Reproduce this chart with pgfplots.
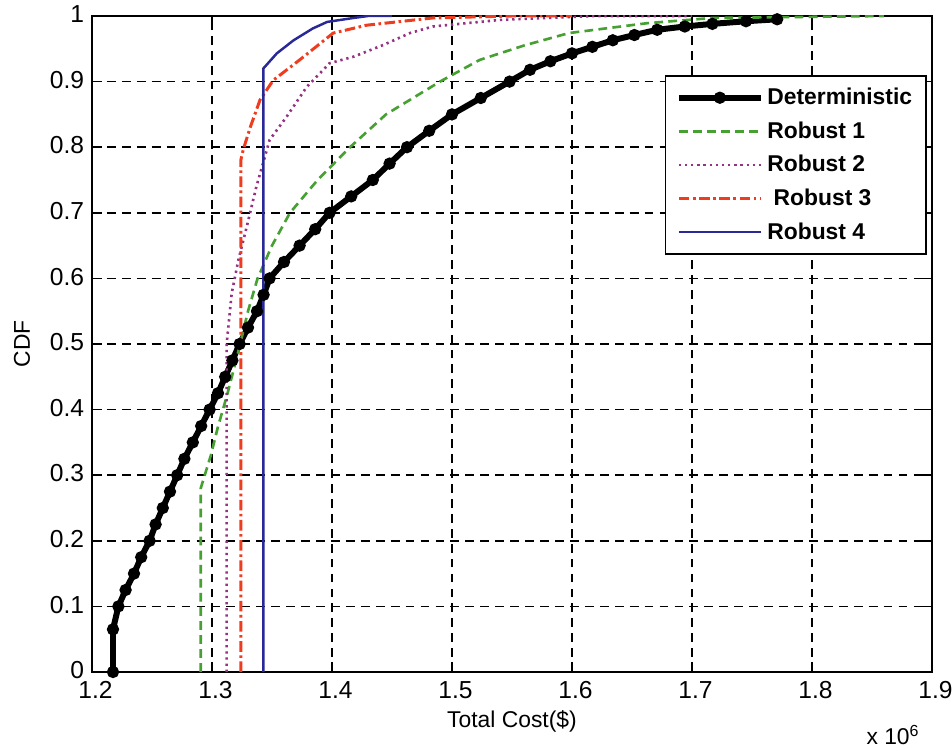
\documentclass[border=0pt]{standalone}
\usepackage{pgfplots}
\pgfplotsset{compat=1.18}
\usepackage{fontspec}
\setmainfont{Liberation Sans}
\definecolor{rgreen}{RGB}{70,160,50}
\definecolor{rpurple}{RGB}{150,50,130}
\definecolor{rred}{RGB}{240,60,30}
\definecolor{rblue}{RGB}{40,40,150}
\begin{document}
\begin{tikzpicture}
\path[use as bounding box] (-1.84,-1.56) rectangle (17.2,13.44);
\begin{axis}[
  at={(0,0)}, anchor=south west,
  scale only axis, width=16.8cm, height=13.12cm,
  xmin=1.2, xmax=1.9, ymin=0, ymax=1,
  xtick={1.2,1.3,1.4,1.5,1.6,1.7,1.8,1.9},
  ytick={0,0.1,0.2,0.3,0.4,0.5,0.6,0.7,0.8,0.9,1},
  /pgf/number format/assume math mode=true,
  /pgf/number format/fixed,
  /pgf/number format/precision=1,
  grid=major,
  major grid style={dash pattern=on 5pt off 3.5pt, line width=0.8pt, black},
  tick align=inside,
  major tick length=0.2cm,
  tick style={black, line width=0.8pt},
  axis line style={line width=0.9pt},
  ticklabel style={font=\fontsize{14}{14}\selectfont},
  xticklabel style={yshift=-2pt, xshift=2pt},
  yticklabel style={xshift=-1pt, yshift=1pt},
  xlabel={Total Cost(\$)},
  ylabel={CDF},
  label style={font=\fontsize{13}{13}\selectfont},
  xlabel style={at={(axis description cs:0.5,-0.076)}, anchor=center},
  ylabel style={at={(axis description cs:-0.0833,0.5)}, anchor=center},
  legend cell align=left,
  legend style={at={(0.994,0.910)}, anchor=north east, font=\bfseries\fontsize{13}{13}\selectfont,
    draw=black, line width=0.9pt, row sep=4.2pt, inner xsep=6pt, inner ysep=5pt},
  legend image code/.code={\draw[mark repeat=2,mark phase=2,#1] plot coordinates {(0cm,0cm) (0.82cm,0cm) (1.64cm,0cm)};},
]
\addplot[black, line width=3.4pt, mark=*, mark size=1.7pt, mark options={solid}] coordinates {
(1.2175,0) (1.2175,0.065) (1.222,0.1) (1.228,0.125) (1.235,0.15) (1.241,0.175) (1.248,0.2)
(1.253,0.225) (1.259,0.25) (1.265,0.275) (1.271,0.3) (1.277,0.325) (1.284,0.35) (1.291,0.375)
(1.298,0.4) (1.305,0.425) (1.311,0.45) (1.317,0.475) (1.323,0.5) (1.330,0.525) (1.3375,0.55)
(1.343,0.575) (1.348,0.6) (1.360,0.625) (1.373,0.65) (1.386,0.675) (1.398,0.7) (1.416,0.725)
(1.434,0.75) (1.448,0.775) (1.4625,0.8) (1.481,0.825) (1.500,0.85) (1.524,0.875) (1.548,0.9)
(1.565,0.918) (1.582,0.931) (1.600,0.943) (1.617,0.953) (1.634,0.963) (1.652,0.971) (1.671,0.979)
(1.694,0.984) (1.717,0.988) (1.745,0.992) (1.771,0.995)
};
\addlegendentry{Deterministic}
\addplot[rgreen, line width=1.5pt, dash pattern=on 5pt off 3pt] coordinates {
(1.2906,0) (1.2906,0.28) (1.299,0.33) (1.305,0.374) (1.313,0.425) (1.323,0.496) (1.330,0.55)
(1.338,0.6) (1.350,0.65) (1.365,0.7) (1.388,0.75) (1.415,0.8) (1.445,0.85) (1.490,0.9)
(1.523,0.933) (1.560,0.955) (1.5975,0.974) (1.6625,0.989) (1.717,0.997) (1.86,1.0)
};
\addlegendentry{Robust 1}
\addplot[rpurple, line width=1.5pt, dash pattern=on 1.3pt off 2.2pt] coordinates {
(1.3122,0) (1.3122,0.50) (1.3164,0.577) (1.322,0.628) (1.329,0.679) (1.337,0.74) (1.344,0.785)
(1.348,0.811) (1.362,0.846) (1.379,0.892) (1.398,0.928) (1.418,0.938) (1.443,0.956) (1.465,0.974)
(1.484,0.984) (1.54,0.994) (1.62,1.0) (1.70,1.0)
};
\addlegendentry{Robust 2}
\addplot[rred, line width=1.7pt, dash pattern=on 6pt off 2pt on 1.5pt off 2pt] coordinates {
(1.324,0) (1.324,0.78) (1.326,0.796) (1.332,0.831) (1.340,0.872) (1.351,0.902) (1.373,0.933)
(1.401,0.974) (1.429,0.986) (1.484,0.997) (1.55,1.0) (1.60,1.0)
};
\addlegendentry{\ Robust 3}
\addplot[rblue, line width=1.4pt] coordinates {
(1.3428,0) (1.3428,0.92) (1.354,0.943) (1.368,0.963) (1.384,0.981) (1.396,0.991) (1.418,0.997)
(1.43,1.0) (1.45,1.0)
};
\addlegendentry{Robust 4}
\end{axis}
\node[font=\fontsize{13}{13}\selectfont, anchor=center] at (16.02,-1.26) {x 10\textsuperscript{6}};
\end{tikzpicture}
\end{document}
